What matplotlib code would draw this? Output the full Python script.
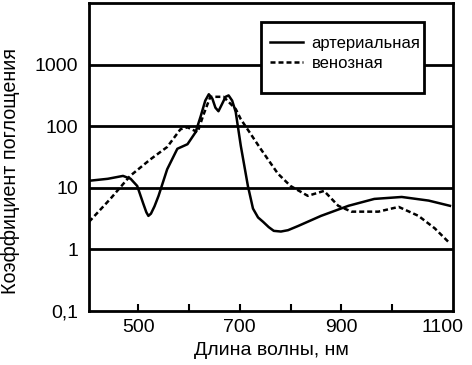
import matplotlib
matplotlib.use("Agg")
import matplotlib.pyplot as plt
from matplotlib.patches import Rectangle
from matplotlib.ticker import FixedLocator, FixedFormatter, NullLocator

plt.rcParams['font.family'] = ['Liberation Sans', 'DejaVu Sans']

# arterial blood (solid)
art_nm = [403, 440, 470, 485, 498, 510, 516, 520, 525, 532, 540, 557, 577,
          597, 613, 623, 632, 639, 646, 652, 658, 664, 672, 678, 685, 692,
          702, 716, 726, 736, 746, 757, 767, 781, 795, 815, 860, 914, 965,
          1019, 1072, 1114]
art_k = [13, 14, 15.6, 14, 10.7, 5.5, 4.0, 3.5, 3.8, 5.0, 7.4, 20, 43,
         51, 80, 145, 260, 330, 280, 200, 175, 220, 300, 316, 260, 170,
         48, 10.7, 4.6, 3.3, 2.8, 2.3, 2.0, 1.95, 2.05, 2.4, 3.5, 5.1, 6.6,
         7.1, 6.2, 5.1]

# venous blood (dashed)
ven_nm = [403, 445, 484, 524, 557, 583, 597, 617, 628, 642, 668, 692, 702,
          741, 775, 800, 834, 866, 894, 920, 973, 1013, 1052, 1084, 1114]
ven_k = [2.8, 6.6, 15.6, 29, 46, 89, 96, 80, 150, 300, 300, 190, 130,
         43, 17, 10.7, 7.4, 8.9, 5.1, 4.1, 4.1, 4.9, 3.5, 2.2, 1.25]

y_ticks = [0.1, 1, 10, 100, 1000]
y_labels = ['0,1', '1', '10', '100', '1000']
x_ticks = [500, 600, 700, 800, 900, 1000, 1100]
x_labels = ['500', '', '700', '', '900', '', '1100']

fig = plt.figure(figsize=(4.72, 3.65), dpi=100)
ax = fig.add_axes([89 / 472, 54 / 365, 364 / 472, 308 / 365])

for y in [1, 10, 100, 1000]:
    ax.axhline(y, color='black', linewidth=2, zorder=1)

ax.plot(art_nm, art_k, color='black', linewidth=1.8, label='артериальная', zorder=3)
ax.plot(ven_nm, ven_k, color='black', linewidth=1.8, linestyle=(0, (2.0, 1.2)),
        label='венозная', zorder=3)

ax.set_yscale('log')
ax.set_ylim(0.1, 10000)
ax.set_xlim(403, 1120)

ax.yaxis.set_major_locator(FixedLocator(y_ticks))
ax.yaxis.set_major_formatter(FixedFormatter(y_labels))
ax.yaxis.set_minor_locator(NullLocator())
ax.tick_params(axis='y', length=0, pad=8, labelsize=14)

ax.xaxis.set_major_locator(FixedLocator(x_ticks))
ax.xaxis.set_major_formatter(FixedFormatter(x_labels))
ax.tick_params(axis='x', direction='in', length=5, width=1.5, pad=6, labelsize=14)
ax.xaxis.get_major_ticks()[-1].tick1line.set_visible(False)

for s in ax.spines.values():
    s.set_linewidth(2)

ax.set_xlabel('Длина волны, нм', fontsize=14, labelpad=4)
ax.set_ylabel('Коэффициент поглощения', fontsize=14.2)
ax.yaxis.set_label_coords(-0.19, 0.455)

# legend box drawn separately so it can be taller than its two rows
box = Rectangle((172 / 364, 218 / 308), 163 / 364, 71 / 308, transform=ax.transAxes,
                facecolor='white', edgecolor='black', linewidth=2, zorder=4)
ax.add_patch(box)
leg = ax.legend(loc='upper left', bbox_to_anchor=(181 / 364, 275 / 308),
                frameon=False, fontsize=12, handlelength=2.0, borderpad=0,
                labelspacing=0.3, handletextpad=0.5, borderaxespad=0)
leg.set_zorder(5)

fig.savefig('out.png', dpi=100)
